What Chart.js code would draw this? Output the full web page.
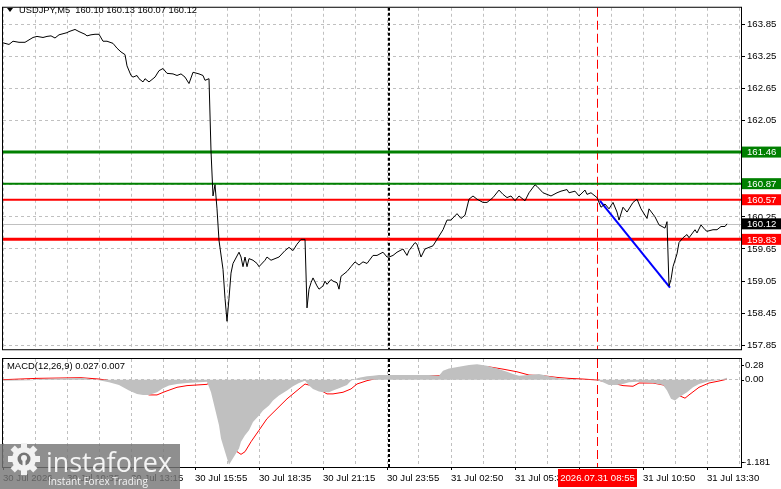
<!DOCTYPE html>
<html>
<head>
<meta charset="utf-8">
<title>USDJPY M5</title>
<script src="https://cdn.jsdelivr.net/npm/chart.js@4.4.1/dist/chart.umd.min.js"></script>
<style>
  html, body { margin: 0; padding: 0; background: #fff; }
  #wrap { position: relative; width: 781px; height: 489px; overflow: hidden; }
  #mainBox { position: absolute; left: 0; top: 0; width: 781px; height: 357px; }
  #macdBox { position: absolute; left: 0; top: 356px; width: 781px; height: 133px; }
</style>
</head>
<body>
<div id="wrap">
  <div id="mainBox"><canvas id="mainChart"></canvas></div>
  <div id="macdBox"><canvas id="macdChart"></canvas></div>
</div>
<script>
'use strict';

// ---- data (x = bar number, M5 bars) ----
const priceBars = [0,3,5,8,11,15,17,20,22,24,26,28,32,33,36,38,41,42,44,46,48,50,52,55,57,59,61,62,64,65,67,68,70,71,73,76,78,80,82,85,87,89,91,93,95,97,98,100,101,103,104,105,106,107,108,110,111,112,113,114,115,118,119,120,121,122,123,125,127,128,131,132,134,136,138,141,143,145,147,149,151,152,153,154,155,157,158,160,161,162,164,165,167,168,169,172,174,176,178,180,182,185,187,190,192,193,195,197,200,202,203,206,207,209,211,213,215,217,218,220,222,224,227,229,231,233,235,237,240,242,245,248,250,252,254,256,258,261,263,266,267,270,272,274,277,279,282,283,286,288,291,292,294,297,299,301,303,305,307,308,310,312,315,317,319,322,323,326,328,331,332,333,334,335,337,338,340,342,343,346,347,349,351,352,355,357,359,361,362];
const priceValues = [163.50,163.47,163.53,163.51,163.51,163.60,163.62,163.60,163.62,163.63,163.59,163.65,163.69,163.71,163.75,163.71,163.66,163.63,163.65,163.66,163.66,163.53,163.53,163.49,163.40,163.33,163.28,163.07,162.89,162.86,162.89,162.83,162.77,162.83,162.77,162.86,162.98,163.02,162.93,162.92,162.89,162.92,162.86,162.74,162.95,162.93,162.92,162.89,162.80,162.83,161.48,160.64,160.85,160.40,159.81,159.27,158.73,158.30,158.73,159.20,159.38,159.59,159.50,159.32,159.50,159.32,159.47,159.44,159.38,159.32,159.44,159.50,159.44,159.47,159.50,159.62,159.68,159.62,159.74,159.83,159.83,158.55,158.90,159.02,159.11,158.96,158.90,158.96,159.05,158.99,159.08,159.05,159.02,158.90,159.14,159.23,159.32,159.41,159.35,159.41,159.38,159.53,159.53,159.59,159.50,159.50,159.53,159.59,159.65,159.53,159.62,159.77,159.74,159.50,159.65,159.68,159.71,159.83,159.89,160.01,160.19,160.19,160.31,160.22,160.28,160.58,160.64,160.58,160.52,160.52,160.61,160.75,160.67,160.61,160.64,160.55,160.64,160.55,160.70,160.85,160.82,160.70,160.67,160.64,160.70,160.73,160.76,160.70,160.73,160.64,160.75,160.67,160.70,160.61,160.43,160.49,160.40,160.52,160.34,160.19,160.43,160.34,160.52,160.58,160.40,160.22,160.40,160.25,160.10,160.04,160.16,158.96,159.08,159.32,159.56,159.77,159.86,159.92,159.86,160.01,159.95,160.10,160.01,159.98,160.01,160.01,160.07,160.07,160.12];

const histBars = [0,15,17,32,40,48,53,58,63,67,70,73,77,80,83,87,92,98,102,104,106,108,109,111,113,114,116,118,119,121,123,125,128,130,133,135,138,142,145,148,151,153,155,158,160,163,165,168,172,174,176,178,182,185,188,193,213,218,220,223,228,233,237,242,247,252,255,258,263,268,273,278,283,290,297,300,303,307,310,313,317,320,325,330,332,334,336,338,342,345,348,352,357,360,362];
const histValues = [-0.013,-0.009,0.009,0.018,0.022,-0.009,-0.036,-0.071,-0.147,-0.192,-0.206,-0.206,-0.170,-0.116,-0.080,-0.058,-0.045,-0.036,-0.027,-0.170,-0.393,-0.617,-0.795,-0.974,-1.150,-1.108,-1.019,-0.930,-0.840,-0.751,-0.684,-0.572,-0.483,-0.416,-0.349,-0.282,-0.214,-0.147,-0.089,-0.045,-0.013,-0.080,-0.125,-0.161,-0.170,-0.170,-0.147,-0.116,-0.071,-0.013,0.009,0.027,0.045,0.054,0.063,0.063,0.063,0.054,0.121,0.152,0.174,0.200,0.210,0.188,0.152,0.107,0.076,0.054,0.063,0.076,0.045,0.018,0.009,0.000,-0.009,-0.036,-0.071,-0.071,-0.058,-0.036,-0.027,-0.036,-0.045,-0.071,-0.147,-0.259,-0.282,-0.237,-0.170,-0.103,-0.058,-0.027,-0.009,0.009,0.027];

const signalBars = [0,17,39,48,57,63,68,73,77,81,87,92,102,103,106,109,112,114,117,119,121,124,128,132,137,142,147,151,154,159,162,165,170,174,177,182,189,193,213,218,223,230,237,243,250,257,263,270,277,283,290,297,303,310,315,318,325,330,335,338,341,343,348,353,358,362];
const signalValues = [0.000,0.018,0.027,0.009,-0.027,-0.080,-0.147,-0.206,-0.206,-0.161,-0.103,-0.080,-0.063,-0.045,-0.103,-0.259,-0.572,-0.840,-0.974,-1.010,-0.974,-0.840,-0.684,-0.527,-0.393,-0.259,-0.147,-0.058,-0.080,-0.147,-0.192,-0.192,-0.170,-0.125,-0.058,-0.013,0.031,0.045,0.054,0.054,0.098,0.143,0.174,0.174,0.143,0.107,0.063,0.054,0.031,0.018,0.009,-0.004,-0.036,-0.080,-0.089,-0.045,-0.045,-0.071,-0.147,-0.214,-0.250,-0.206,-0.103,-0.045,-0.018,0.007];

const trendBars = [298.5, 333.5];
const trendPrices = [160.55, 158.93];

const priceTicks = [157.85,158.45,159.05,159.65,160.25,160.85,161.45,162.05,162.65,163.25,163.85];
const macdTicks = [0.28, 0.00, -1.181];
const levelPrices = [161.46, 160.87, 160.57, 159.83];
const bidPrice = 160.12;

const timeLabels = ['30 Jul 2026','30 Jul 10:35','30 Jul 13:15','30 Jul 15:55','30 Jul 18:35','30 Jul 21:15','30 Jul 23:55','31 Jul 02:50','31 Jul 05:30','31 Jul 08:10','31 Jul 10:50','31 Jul 13:30'];
const separatorBar = 193;
const markerBar = 297;
const markerLabel = '2026.07.31 08:55';
const headerText = 'USDJPY,M5  160.10 160.13 160.07 160.12';
const macdHeader = 'MACD(12,26,9) 0.027 0.007';

// ---- styles ----
const levelColors = ['#008000', '#008000', '#ff0000', '#ff0000'];
const levelWidths = [3, 2, 2, 3];
const GRID = '#c0c0c0';
const FONT_FAMILY = "'Liberation Sans', Arial, sans-serif";
const FONT_SIZE = 9.6;
const BAR_MAX = 369;

function toPoints(xs, ys) {
  return xs.map((b, i) => ({ x: b, y: ys[i] }));
}

function hLine(ctx, x1, x2, y) {
  ctx.beginPath();
  ctx.moveTo(x1, y);
  ctx.lineTo(x2, y);
  ctx.stroke();
}

function vLine(ctx, x, y1, y2) {
  ctx.beginPath();
  ctx.moveTo(x, y1);
  ctx.lineTo(x, y2);
  ctx.stroke();
}

// day separator + selected bar line, used in both panels
function drawVerticals(ctx, xScale, area) {
  ctx.save();
  ctx.lineWidth = 2;
  ctx.strokeStyle = '#000';
  ctx.setLineDash([3, 2]);
  vLine(ctx, Math.round(xScale.getPixelForValue(separatorBar)), area.top, area.bottom);
  ctx.lineWidth = 1;
  ctx.strokeStyle = '#ff0000';
  ctx.setLineDash([9, 4]);
  vLine(ctx, Math.round(xScale.getPixelForValue(markerBar)) + 0.5, area.top, area.bottom);
  ctx.restore();
}

function drawFrame(ctx, a) {
  ctx.save();
  ctx.strokeStyle = '#000';
  ctx.lineWidth = 1;
  ctx.setLineDash([]);
  ctx.strokeRect(a.left - 0.5, a.top - 0.5, a.right - a.left + 1, a.bottom - a.top + 1);
  ctx.restore();
}

function xGridTicks(scale) {
  scale.ticks = [];
  for (let v = 0; v <= BAR_MAX; v += 16) scale.ticks.push({ value: v });
}

const mainOverlay = {
  id: 'mainOverlay',
  beforeDatasetsDraw(chart) {
    const { ctx, chartArea: a, scales: { x, y } } = chart;
    ctx.save();
    ctx.strokeStyle = GRID;
    ctx.lineWidth = 1;
    hLine(ctx, a.left, a.right, Math.round(y.getPixelForValue(bidPrice)) + 0.5);
    drawVerticals(ctx, x, a);
    for (let i = 0; i < levelPrices.length; i++) {
      ctx.strokeStyle = levelColors[i];
      ctx.lineWidth = levelWidths[i];
      hLine(ctx, a.left, a.right, y.getPixelForValue(levelPrices[i]));
    }
    ctx.restore();
  },
  afterDraw(chart) {
    const { ctx, chartArea: a, scales: { y } } = chart;
    drawFrame(ctx, a);
    ctx.save();
    ctx.font = FONT_SIZE + 'px ' + FONT_FAMILY;
    ctx.textBaseline = 'middle';
    const boxes = levelPrices.map((p, i) => [p, levelColors[i]]);
    boxes.push([bidPrice, '#000']);
    boxes.forEach(([p, c]) => {
      const py = y.getPixelForValue(p);
      ctx.fillStyle = c;
      ctx.fillRect(a.right + 1, py - 5.5, 40, 11);
      ctx.fillStyle = '#fff';
      ctx.fillText(p.toFixed(2), a.right + 6, py + 0.5);
    });
    // header
    ctx.fillStyle = '#000';
    ctx.beginPath();
    ctx.moveTo(7, 8); ctx.lineTo(13, 8); ctx.lineTo(10, 12); ctx.closePath();
    ctx.fill();
    ctx.fillText(headerText, 19, 10.5, 178);
    ctx.restore();
  }
};

function drawLogo(ctx) {
  ctx.save();
  ctx.fillStyle = 'rgba(118,118,118,0.82)';
  ctx.fillRect(0, 88, 180, 45);
  // gear
  const cx = 24, cy = 103;
  ctx.fillStyle = '#f2f2f2';
  ctx.beginPath();
  ctx.arc(cx, cy, 12, 0, Math.PI * 2);
  ctx.fill();
  for (let i = 0; i < 8; i++) {
    ctx.save();
    ctx.translate(cx, cy);
    ctx.rotate(i * Math.PI / 4);
    ctx.fillRect(-3, -16, 6, 6);
    ctx.restore();
  }
  ctx.fillStyle = 'rgb(118,118,118)';
  ctx.beginPath();
  ctx.arc(cx, cy, 6.5, 0, Math.PI * 2);
  ctx.fill();
  ctx.fillStyle = '#f2f2f2';
  ctx.beginPath();
  ctx.arc(cx, cy - 1, 3, 0, Math.PI * 2);
  ctx.fill();
  ctx.fillRect(cx - 1.5, cy, 3, 14);
  // text
  ctx.fillStyle = '#f4f4f4';
  ctx.textBaseline = 'alphabetic';
  ctx.font = "27px 'Open Sans', sans-serif";
  ctx.fillText('instaforex', 46, 116, 126);
  ctx.font = "11.5px 'Open Sans', sans-serif";
  ctx.fillText('Instant Forex Trading', 48, 129, 100);
  ctx.restore();
}

const macdOverlay = {
  id: 'macdOverlay',
  beforeDatasetsDraw(chart) {
    drawVerticals(chart.ctx, chart.scales.x, chart.chartArea);
  },
  afterDraw(chart) {
    const { ctx, chartArea: a, scales: { x, y } } = chart;
    drawFrame(ctx, a);
    ctx.save();
    ctx.font = FONT_SIZE + 'px ' + FONT_FAMILY;
    ctx.textBaseline = 'middle';
    ctx.fillStyle = '#000';
    ctx.strokeStyle = '#000';
    ctx.lineWidth = 1;
    // axis labels, top/bottom ones kept inside the window like the terminal does
    macdTicks.forEach(v => {
      let py = y.getPixelForValue(v);
      if (v === macdTicks[0]) py += 6;
      if (v === macdTicks[2]) py -= 5;
      hLine(ctx, a.right, a.right + 3, Math.round(py) + 0.5);
      ctx.fillText(v === 0 ? '0.00' : String(v), a.right + (v < 0 ? 2 : 4), py);
    });
    ctx.fillText(macdHeader, 7, 10.5, 118);
    // selected time box on the axis
    const mx = x.getPixelForValue(markerBar);
    ctx.fillStyle = '#ff0000';
    ctx.fillRect(mx - 39, 113, 79, 18);
    ctx.fillStyle = '#fff';
    ctx.textAlign = 'center';
    ctx.fillText(markerLabel, mx + 0.5, 122.5, 76);
    ctx.restore();
    drawLogo(ctx);
  }
};

const tickFont = { family: FONT_FAMILY, size: FONT_SIZE };

new Chart(document.getElementById('mainChart'), {
  type: 'line',
  data: {
    datasets: [
      {
        data: toPoints(priceBars, priceValues),
        borderColor: '#000',
        borderWidth: 1,
        pointRadius: 0,
        tension: 0
      },
      {
        data: toPoints(trendBars, trendPrices),
        borderColor: '#0000ff',
        borderWidth: 2,
        pointRadius: 0
      }
    ]
  },
  options: {
    responsive: true,
    maintainAspectRatio: false,
    animation: false,
    layout: { padding: { top: 1, bottom: 0, left: 3, right: 0 } },
    plugins: { legend: { display: false }, tooltip: { enabled: false } },
    scales: {
      x: {
        type: 'linear',
        min: 0,
        max: BAR_MAX,
        afterBuildTicks: xGridTicks,
        afterFit: s => { s.height = 0; },
        ticks: { display: false },
        grid: { color: GRID, drawTicks: false },
        border: { display: false, dash: [3, 3] }
      },
      y: {
        position: 'right',
        min: 157.778,
        max: 164.155,
        afterBuildTicks: s => { s.ticks = priceTicks.map(v => ({ value: v })); },
        afterFit: s => { s.width = 40; },
        ticks: {
          color: '#000',
          font: tickFont,
          padding: 2,
          callback: v => Number(v).toFixed(2)
        },
        grid: { color: GRID, tickColor: '#000', tickLength: 4 },
        border: { display: false, dash: [3, 3] }
      }
    }
  },
  plugins: [mainOverlay]
});

new Chart(document.getElementById('macdChart'), {
  type: 'line',
  data: {
    datasets: [
      {
        data: toPoints(histBars, histValues),
        borderWidth: 0,
        borderColor: 'rgba(0,0,0,0)',
        backgroundColor: GRID,
        fill: 'origin',
        pointRadius: 0,
        tension: 0
      },
      {
        data: toPoints(signalBars, signalValues),
        borderColor: '#ff0000',
        borderWidth: 1,
        pointRadius: 0,
        tension: 0
      }
    ]
  },
  options: {
    responsive: true,
    maintainAspectRatio: false,
    animation: false,
    layout: { padding: { top: 3, bottom: 0, left: 3, right: 0 } },
    plugins: { legend: { display: false }, tooltip: { enabled: false } },
    scales: {
      x: {
        type: 'linear',
        min: 0,
        max: BAR_MAX,
        afterBuildTicks: xGridTicks,
        afterFit: s => { s.height = 22; },
        ticks: {
          autoSkip: false,
          maxRotation: 0,
          align: 'start',
          color: '#000',
          font: tickFont,
          padding: 3,
          callback: v => (v % 32 === 0 ? timeLabels[v / 32] : '')
        },
        grid: {
          color: GRID,
          tickLength: 3,
          tickColor: c => (c.tick && c.tick.value % 32 === 0 ? '#000' : 'rgba(0,0,0,0)')
        },
        border: { display: false, dash: [3, 3] }
      },
      y: {
        position: 'right',
        min: -1.181,
        max: 0.28,
        afterBuildTicks: s => { s.ticks = [{ value: 0 }]; },
        afterFit: s => { s.width = 40; },
        ticks: { display: false },
        grid: { color: GRID, drawTicks: false },
        border: { display: false, dash: [3, 3] }
      }
    }
  },
  plugins: [macdOverlay]
});
</script>
</body>
</html>
